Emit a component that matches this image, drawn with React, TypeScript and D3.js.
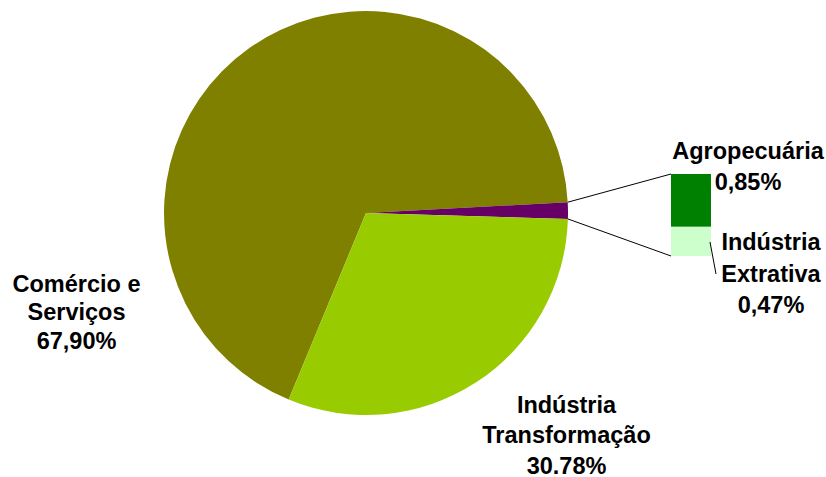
import React from "react";
import * as d3 from "d3";

const pieCategories = ["Comércio e Serviços", "Outros", "Indústria Transformação"];
const pieValues = [67.90, 1.32, 30.78];
const pieColors = ["#808000", "#660066", "#99CC00"];

const barCategories = ["Agropecuária", "Indústria Extrativa"];
const barValues = [0.85, 0.47];
const barColors = ["#008000", "#CCFFCC"];

const pieLabelLines = [
  ["Comércio e", "Serviços", "67,90%"],
  ["Indústria", "Transformação", "30.78%"],
];
const barLabelLines = [
  ["Agropecuária", "0,85%"],
  ["Indústria", "Extrativa", "0,47%"],
];

const W = 826, H = 477;
const cx = 366, cy = 213, R = 202;
const startDeg = -157.5;

export default function App() {
  const pie = d3
    .pie<number>()
    .sort(null)
    .value((d) => d)
    .startAngle((startDeg * Math.PI) / 180)
    .endAngle(((startDeg + 360) * Math.PI) / 180);
  const arcs = pie(pieValues);
  const arcGen = d3.arc<d3.PieArcDatum<number>>().innerRadius(0).outerRadius(R);

  const other = arcs[1];
  const pt = (a: number) => [cx + R * Math.sin(a), cy - R * Math.cos(a)];
  const [p1x, p1y] = pt(other.startAngle);
  const [p2x, p2y] = pt(other.endAngle);

  const total = d3.sum(barValues);
  const yBar = d3.scaleLinear().domain([0, total]).range([174, 256]);
  const xBar = d3.scaleBand().domain(["bar"]).range([671, 711]).padding(0);
  let acc = 0;
  const segs = barValues.map((v, i) => {
    const s = { y0: yBar(acc), y1: yBar(acc + v), color: barColors[i], name: barCategories[i] };
    acc += v;
    return s;
  });

  const font = { fontFamily: "'Liberation Sans', Arial, sans-serif", fontWeight: 700, fontSize: 23.5, fill: "#000" };

  const labels: { x: number; ys: number[]; lines: string[] }[] = [
    { x: 76.5, ys: [291.5, 320, 348.5], lines: pieLabelLines[0] },
    { x: 566.5, ys: [412.5, 443, 473.5], lines: pieLabelLines[1] },
    { x: 748, ys: [158.5, 190], lines: barLabelLines[0] },
    { x: 771, ys: [250, 281.5, 313], lines: barLabelLines[1] },
  ];

  return (
    <svg width={W} height={H} style={{ position: "absolute", left: 0, top: 0, background: "#fff" }}>
      <g transform={`translate(${cx},${cy})`}>
        {arcs.map((a, i) => (
          <path key={pieCategories[i]} d={arcGen(a) || ""} fill={pieColors[i]} />
        ))}
      </g>
      {segs.map((s) => (
        <rect key={s.name} x={xBar("bar")} y={s.y0} width={xBar.bandwidth()} height={s.y1 - s.y0} fill={s.color} />
      ))}
      <line x1={p1x} y1={p1y} x2={671} y2={yBar(0)} stroke="#000" strokeWidth={1} />
      <line x1={p2x} y1={p2y} x2={671} y2={yBar(total)} stroke="#000" strokeWidth={1} />
      <line x1={710} y1={242} x2={716} y2={274} stroke="#000" strokeWidth={1} />
      {labels.map((l, i) => (
        <text key={i} textAnchor="middle" {...font}>
          {l.lines.map((t, j) => (
            <tspan key={j} x={l.x} y={l.ys[j]}>
              {t}
            </tspan>
          ))}
        </text>
      ))}
    </svg>
  );
}
